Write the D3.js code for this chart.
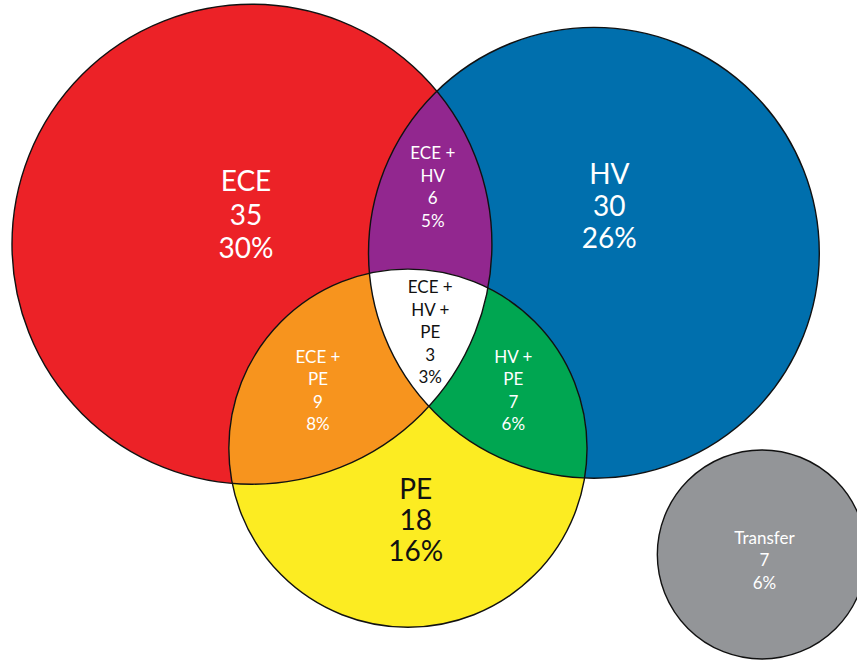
<!DOCTYPE html>
<html>
<head>
<meta charset="utf-8">
<script src="https://cdn.jsdelivr.net/npm/d3@7"></script>
<style>
  html, body { margin: 0; padding: 0; background: #fff; }
  svg { display: block; }
  text { font-family: "Lato", "Noto Sans", sans-serif; }
</style>
</head>
<body>
<div id="chart"></div>
<script>
// Sets and their counts / shares
const setNames = ["ECE", "HV", "PE", "Transfer"];
const setCounts = [35, 30, 18, 7];
const setPercents = ["30%", "26%", "16%", "6%"];

// Overlap regions
const overlapLabels = [["ECE +", "HV"], ["ECE +", "PE"], ["HV +", "PE"], ["ECE +", "HV +", "PE"]];
const overlapSets = [["ECE", "HV"], ["ECE", "PE"], ["HV", "PE"], ["ECE", "HV", "PE"]];
const overlapCounts = [6, 9, 7, 3];
const overlapPercents = ["5%", "8%", "6%", "3%"];

// Layout of the circles in diagram units (0..100 wide)
const circleCx = [29.4, 69.3, 47.6, 88.9];
const circleCy = [28.5, 29.5, 52.3, 64.7];
const circleR = [28.0, 26.3, 20.9, 12.2];

const setColors = ["#ec2227", "#006fad", "#fcec22", "#939598"];
const overlapColors = ["#92278f", "#f7941e", "#00a651", "#ffffff"];

const W = 857, H = 660;
const x = d3.scaleLinear().domain([0, 100]).range([0, W]);
const y = d3.scaleLinear().domain([0, 100]).range([0, W]);
const r = d3.scaleLinear().domain([0, 100]).range([0, W]);

const svg = d3.select("#chart").append("svg")
  .attr("width", W)
  .attr("height", H);

const sets = setNames.map((name, i) => ({
  name, count: setCounts[i], pct: setPercents[i],
  cx: x(circleCx[i]), cy: y(circleCy[i]), r: r(circleR[i]), color: setColors[i]
}));
const byName = {};
sets.forEach(s => byName[s.name] = s);

// clip paths, one per set
const defs = svg.append("defs");
sets.forEach((s, i) => {
  defs.append("clipPath").attr("id", "clip-" + i)
    .append("circle").attr("cx", s.cx).attr("cy", s.cy).attr("r", s.r);
});

// base circles
svg.append("g").selectAll("circle")
  .data(sets)
  .join("circle")
  .attr("cx", d => d.cx).attr("cy", d => d.cy).attr("r", d => d.r)
  .attr("fill", d => d.color);

// overlaps: nest clip groups
overlapSets.forEach((names, k) => {
  let g = svg.append("g");
  names.slice(1).forEach(n => {
    g = g.append("g").attr("clip-path", `url(#clip-${setNames.indexOf(n)})`);
  });
  const s0 = byName[names[0]];
  g.append("circle")
    .attr("cx", s0.cx).attr("cy", s0.cy).attr("r", s0.r)
    .attr("fill", overlapColors[k]);
});

// outlines
svg.append("g").selectAll("circle")
  .data(sets)
  .join("circle")
  .attr("cx", d => d.cx).attr("cy", d => d.cy).attr("r", d => d.r)
  .attr("fill", "none")
  .attr("stroke", "#111")
  .attr("stroke-width", 1.4);

// label helper
function label(cx, cy, lines, size, gap, color) {
  const t = svg.append("text")
    .attr("text-anchor", "middle")
    .attr("fill", color)
    .style("font-size", size + "px");
  const top = cy - (lines.length - 1) * gap / 2;
  lines.forEach((ln, i) => {
    t.append("tspan")
      .attr("x", cx)
      .attr("y", top + i * gap)
      .attr("dy", "0.35em")
      .text(ln);
  });
}

// set labels (positions in diagram units)
const setLabelX = [28.7, 71.1, 48.5, 89.2];
const setLabelY = [25.1, 24.1, 60.7, 65.4];
const setLabelSize = [28, 28, 28, 17];
const setLabelGap = [33.5, 32, 31, 22.5];
const setLabelColor = ["#fff", "#fff", "#111", "#fff"];
sets.forEach((s, i) => {
  label(x(setLabelX[i]), y(setLabelY[i]), [s.name, String(s.count), s.pct],
    setLabelSize[i], setLabelGap[i], setLabelColor[i]);
});

const overlapLabelX = [50.5, 37.1, 59.9, 50.2];
const overlapLabelY = [21.8, 45.6, 45.6, 38.8];
const overlapLabelColor = ["#fff", "#fff", "#fff", "#111"];
overlapLabels.forEach((lines, k) => {
  label(x(overlapLabelX[k]), y(overlapLabelY[k]),
    lines.concat([String(overlapCounts[k]), overlapPercents[k]]),
    17, 22.5, overlapLabelColor[k]);
});
</script>
</body>
</html>
